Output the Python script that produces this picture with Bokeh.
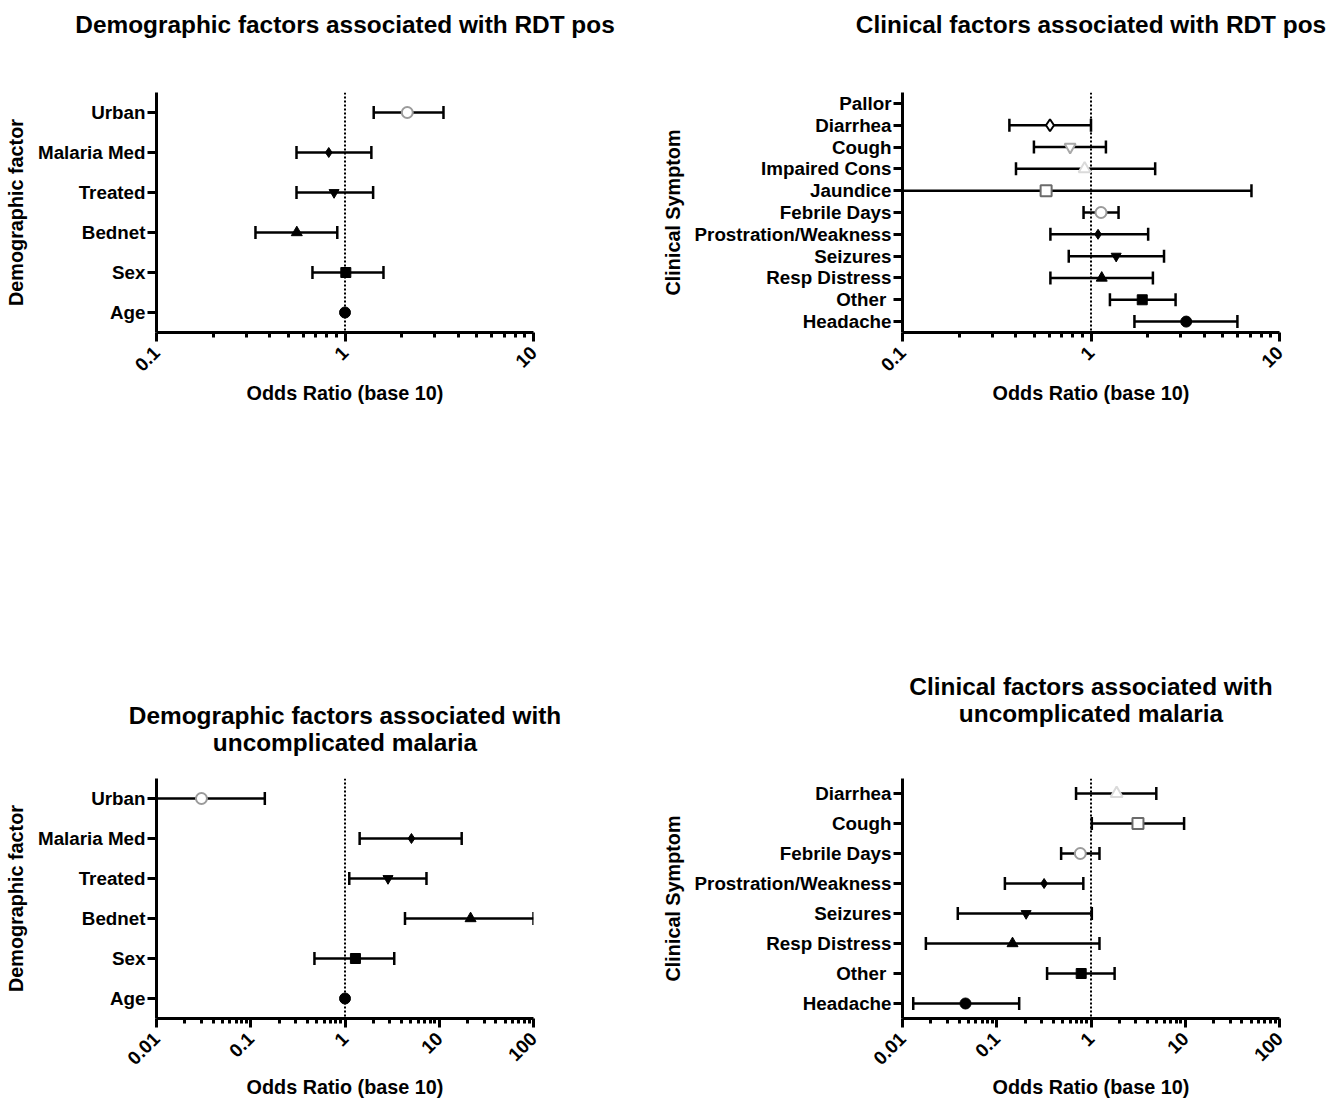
import math
from bokeh.plotting import figure
from bokeh.models import (FactorRange, Span, FixedTicker, CustomJSTickFormatter,
                          Title, ColumnDataSource)
from bokeh.layouts import column, row
from bokeh.embed import file_html
from bokeh.resources import INLINE

NaN = float("nan")

# ---------------- data ----------------
# categories are listed bottom -> top
demo_factors = ["Age", "Sex", "Bednet", "Treated", "Malaria Med", "Urban"]

# Demographic factors associated with RDT pos
demo_rdt_or = [1.0, 1.01, 0.555, 0.875, 0.82, 2.14]
demo_rdt_lo = [NaN, 0.672, 0.335, 0.553, 0.553, 1.42]
demo_rdt_hi = [NaN, 1.60, 0.91, 1.41, 1.38, 3.33]

# Clinical factors associated with RDT pos
clin_rdt_symptoms = ["Headache", "Other ", "Resp Distress", "Seizures",
                     "Prostration/Weakness", "Febrile Days", "Jaundice",
                     "Impaired Cons", "Cough", "Diarrhea", "Pallor"]
clin_rdt_or = [3.20, 1.87, 1.14, 1.36, 1.09, 1.13, 0.578, 0.925, 0.775, 0.606, NaN]
clin_rdt_lo = [1.70, 1.26, 0.609, 0.762, 0.609, 0.913, 0.08, 0.40, 0.498, 0.369, NaN]
clin_rdt_hi = [5.98, 2.81, 2.13, 2.44, 2.01, 1.40, 7.10, 2.19, 1.20, 1.0, NaN]

# Demographic factors associated with uncomplicated malaria
demo_unc_or = [1.0, 1.29, 21.5, 2.86, 5.07, 0.030]
demo_unc_lo = [NaN, 0.474, 4.33, 1.11, 1.43, 0.008]
demo_unc_hi = [NaN, 3.33, 100.0, 7.32, 17.3, 0.141]

# Clinical factors associated with uncomplicated malaria
clin_unc_symptoms = ["Headache", "Other ", "Resp Distress", "Seizures",
                     "Prostration/Weakness", "Febrile Days", "Cough", "Diarrhea"]
clin_unc_or = [0.0466, 0.787, 0.147, 0.205, 0.318, 0.77, 3.15, 1.87]
clin_unc_lo = [0.013, 0.342, 0.0177, 0.0386, 0.122, 0.482, 1.02, 0.694]
clin_unc_hi = [0.173, 1.78, 1.23, 1.02, 0.829, 1.23, 9.72, 4.93]

# axis ticks
ticks_narrow = [0.1, 1, 10]
ticks_wide = [0.01, 0.1, 1, 10, 100]

# ---------------- styles (by position, bottom -> top) ----------------
MARKERS = ["circle", "square", "triangle", "inverted_triangle", "diamond",
           "circle", "square", "triangle", "inverted_triangle", "diamond", "circle"]
LINE_COLORS = ["black", "black", "black", "black", "black",
               "#9b9b9b", "#6b6b6b", "#dadada", "#a9a9a9", "black", "black"]
FILL_COLORS = ["black", "black", "black", "black", "black",
               "white", "white", "white", "white", "white", "white"]
SIZES = [11, 10, 11, 10, 10, 11, 11, 12, 11, 12, 11]
LWS = [1, 1, 1, 1, 1, 2, 2, 2, 2, 2, 2]

FONT = "Liberation Sans"
FRAME_W = 377
FRAME_H = 240


def minor_for(major):
    out = []
    for m in major[:-1]:
        out += [m * k for k in range(2, 10)]
    return out


def make_panel(cats, ors, los, his, major, ylab, titles, gap, line_so,
               left, right, top, bottom):
    n = len(cats)
    p = figure(title=None, x_axis_type="log",
               x_range=(major[0], major[-1]), y_range=FactorRange(*cats),
               frame_width=FRAME_W, frame_height=FRAME_H,
               min_border_left=left, min_border_right=right,
               min_border_top=top, min_border_bottom=bottom,
               output_backend="svg", toolbar_location=None)
    p.outline_line_color = None
    p.xgrid.visible = False
    p.ygrid.visible = False
    p.background_fill_color = "white"
    p.border_fill_color = "white"

    src = ColumnDataSource(dict(
        y=cats, orr=ors, lo=los, hi=his,
        marker=MARKERS[:n], line=LINE_COLORS[:n], fill=FILL_COLORS[:n],
        size=SIZES[:n], lw=LWS[:n]))

    p.add_layout(Span(location=1, dimension="height", line_color="black",
                      line_width=2, line_dash="2 2", level="underlay"))
    p.segment(x0="lo", y0="y", x1="hi", y1="y", source=src,
              line_color="black", line_width=2.5)
    p.scatter(x="lo", y="y", source=src, marker="dash", angle=math.pi / 2,
              size=13, line_color="black", line_width=2.5)
    p.scatter(x="hi", y="y", source=src, marker="dash", angle=math.pi / 2,
              size=13, line_color="black", line_width=2.5)
    p.scatter(x="orr", y="y", source=src, marker="marker", size="size",
              fill_color="fill", line_color="line", line_width="lw")

    xa = p.xaxis[0]
    ya = p.yaxis[0]
    xa.ticker = FixedTicker(ticks=major, minor_ticks=minor_for(major))
    xa.formatter = CustomJSTickFormatter(code="return tick.toString();")
    xa.major_label_orientation = math.pi / 4
    xa.minor_tick_line_width = 3
    xa.minor_tick_out = 5
    xa.minor_tick_in = 0
    xa.minor_tick_line_color = "black"
    xa.axis_label = "Odds Ratio (base 10)"
    xa.axis_label_standoff = 2
    xa.major_label_standoff = 8
    ya.axis_label = ylab
    ya.axis_label_standoff = 8
    ya.major_label_standoff = 2
    for ax in (xa, ya):
        ax.axis_line_width = 3
        ax.axis_line_color = "black"
        ax.major_tick_line_width = 3
        ax.major_tick_line_color = "black"
        ax.major_tick_in = 0
        ax.major_tick_out = 9
        ax.major_label_text_font = FONT
        ax.major_label_text_font_style = "bold"
        ax.major_label_text_font_size = "18.8px"
        ax.major_label_text_color = "black"
        ax.axis_label_text_font = FONT
        ax.axis_label_text_font_style = "bold"
        ax.axis_label_text_font_size = "19.8px"
        ax.axis_label_text_color = "black"

    # spacer between frame and title block (first added sits closest to frame)
    p.add_layout(Title(text=" ", text_font_size="1px", standoff=gap), "above")
    for t, so in zip(reversed(titles), line_so):
        p.add_layout(Title(text=t, align="center", standoff=so,
                           text_font=FONT, text_font_style="bold",
                           text_font_size="24.4px", text_color="black"), "above")
    return p


LEFT_A, RIGHT_A = 156, 115
LEFT_B, RIGHT_B = 254, 49

p1 = make_panel(demo_factors, demo_rdt_or, demo_rdt_lo, demo_rdt_hi,
                ticks_narrow, "Demographic factor",
                ["Demographic factors associated with RDT pos"], 52, [0],
                LEFT_A, RIGHT_A, 92, 208)
p2 = make_panel(clin_rdt_symptoms, clin_rdt_or, clin_rdt_lo, clin_rdt_hi,
                ticks_narrow, "Clinical Symptom",
                ["Clinical factors associated with RDT pos"], 52, [0],
                LEFT_B, RIGHT_B, 92, 208)
p3 = make_panel(demo_factors, demo_unc_or, demo_unc_lo, demo_unc_hi,
                ticks_wide, "Demographic factor",
                ["Demographic factors associated with", "uncomplicated malaria"],
                20, [0, -4], LEFT_A, RIGHT_A, 238, 80)
p4 = make_panel(clin_unc_symptoms, clin_unc_or, clin_unc_lo, clin_unc_hi,
                ticks_wide, "Clinical Symptom",
                ["Clinical factors associated with", "uncomplicated malaria"],
                49, [0, -4], LEFT_B, RIGHT_B, 238, 80)

layout = column(row(p1, p2), row(p3, p4))
open("out.html", "w").write(file_html(layout, INLINE))
